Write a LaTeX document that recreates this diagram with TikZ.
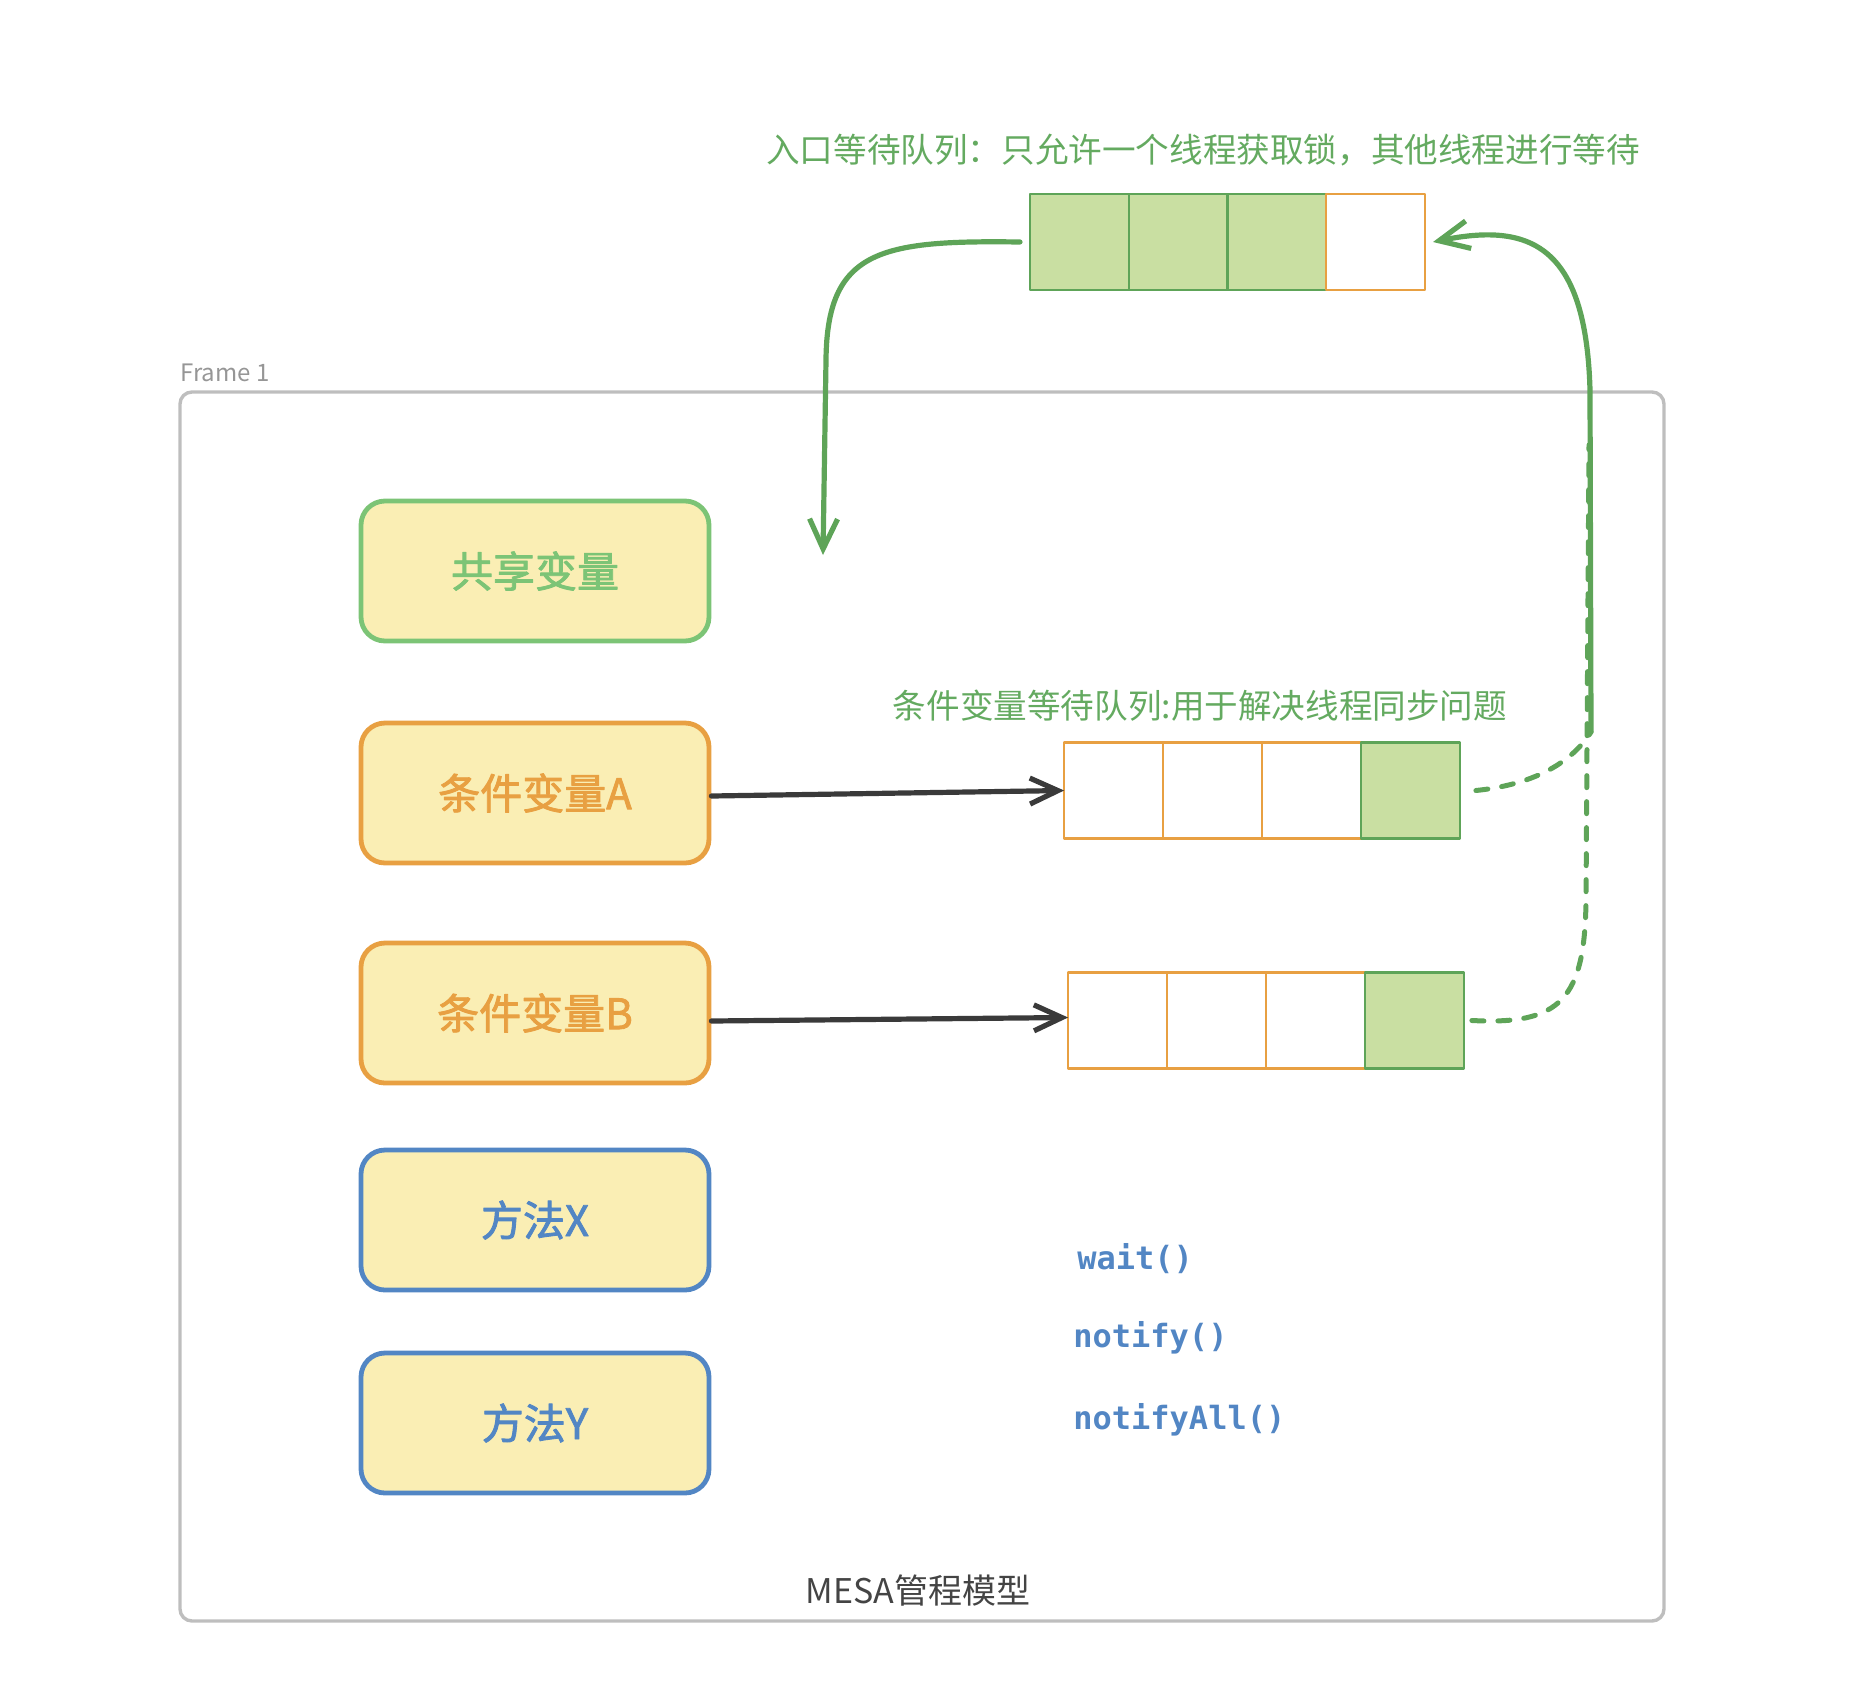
\documentclass[tikz,border=0pt]{standalone}
\usepackage{fontspec}
\setmainfont{Noto Sans CJK SC}
\newfontfamily\boxfont[FakeBold=2]{Noto Sans CJK SC}
\newfontfamily\codefont{DejaVu Sans Mono}
\usetikzlibrary{arrows.meta}

\definecolor{qgreen}{RGB}{94,164,88}
\definecolor{tgreen}{RGB}{100,170,96}
\definecolor{lgreen}{RGB}{201,223,162}
\definecolor{boxgreen}{RGB}{124,196,118}
\definecolor{qorange}{RGB}{232,160,66}
\definecolor{boxfill}{RGB}{250,238,180}
\definecolor{mblue}{RGB}{82,134,196}
\definecolor{darkarrow}{RGB}{58,58,58}
\definecolor{framegray}{RGB}{190,190,190}
\definecolor{labelgray}{RGB}{150,150,150}
\definecolor{modelgray}{RGB}{68,68,68}

\begin{document}
\begin{tikzpicture}[x=0.5pt, y=-0.5pt, line cap=round, line join=round]
	\tikzset{varbox/.style={draw, line width=2.4pt, rounded corners=12pt, fill=boxfill, minimum width=174pt, minimum height=70pt, font=\boxfont\fontsize{21}{25}\selectfont},
		cell/.style={draw, line width=1.2pt, minimum width=49.4pt, minimum height=48pt, inner sep=0pt, outer sep=0pt},
		emptycell/.style={cell, draw=qorange, fill=white},
		fullcell/.style={cell, draw=qgreen, fill=lgreen},
		flow/.style={qgreen, line width=2.6pt, -{Straight Barb[length=15pt,width=14pt]}},
		hint/.style={qgreen, line width=2.5pt, dash pattern=on 6pt off 7pt},
		push/.style={darkarrow, line width=2.6pt, -{Straight Barb[length=14pt,width=13pt]}},
		caption/.style={text=tgreen, font=\fontsize{16.8}{20}\selectfont},
		call/.style={text=mblue, anchor=west, inner sep=0pt, font=\codefont\bfseries\fontsize{16}{19}\selectfont}}
	\useasboundingbox (0,0) rectangle (1876,1704);
	% frame
	\draw[framegray, line width=1.7pt, rounded corners=6pt] (180,392) rectangle (1664,1621);
	\node[anchor=west, inner sep=0pt, text=labelgray, font=\fontsize{12}{14}\selectfont] (frametitle) at (180,373) {Frame 1};
	\node[text=modelgray, font=\fontsize{17}{20}\selectfont] (model) at (918,1591) {MESA管程模型};
	% entry queue
	\node[caption] (entrytitle) at (1203,150) {入口等待队列：只允许一个线程获取锁，其他线程进行等待};
	\foreach \i in {1,2,3}
		\node[fullcell] (eq\i) at ({1079.4+(\i-1)*98.75},242) {};
	\node[emptycell] (eq4) at (1375.6,242) {};
	% condition queues
	\node[caption] (condtitle) at (1200,706) {条件变量等待队列:用于解决线程同步问题};
	\foreach \i in {1,2,3} {
		\node[emptycell] (ca\i) at ({1113.5+(\i-1)*99},790.5) {};
		\node[emptycell] (cb\i) at ({1117.5+(\i-1)*99},1020.5) {};
	}
	\node[fullcell] (ca4) at (1410.5,790.5) {};
	\node[fullcell] (cb4) at (1414.5,1020.5) {};
	% monitor parts
	\node[varbox, draw=boxgreen, text=boxgreen] (shared) at (535,571) {共享变量};
	\node[varbox, draw=qorange, text=qorange] (condA) at (535,793) {条件变量A};
	\node[varbox, draw=qorange, text=qorange] (condB) at (535,1013) {条件变量B};
	\node[varbox, draw=mblue, text=mblue] (methodX) at (535,1220) {方法X};
	\node[varbox, draw=mblue, text=mblue] (methodY) at (535,1423) {方法Y};
	\node[call] (wait) at (1077,1259) {wait()};
	\node[call] (notify) at (1073,1338) {notify()};
	\node[call] (notifyall) at (1073,1420) {notifyAll()};
	% connectors
	\coordinate (enter) at (823,555);
	\coordinate (exitfoot) at (1591,732);
	\coordinate (hinttop) at (1589,445);
	\draw[push] ([yshift=-1.5pt]condA.east) -- (ca1.west);
	\draw[push] ([yshift=-4pt]condB.east) -- ([yshift=1.5pt]cb1.west);
	\draw[flow] ([xshift=-5pt]eq1.west) .. controls (880,240) and (827,250) .. (826,360) -- (enter);
	\draw[flow] (exitfoot) -- (1590,390) .. controls (1586,245) and (1530,222) .. ([xshift=4pt]eq4.east);
	\draw[hint] ([xshift=8pt]ca4.east) .. controls (1530,785) and (1570,765) .. (exitfoot);
	\draw[hint] ([xshift=4pt]cb4.east) .. controls (1560,1025) and (1585,1000) .. (1586,900) -- (hinttop);
\end{tikzpicture}
\end{document}
